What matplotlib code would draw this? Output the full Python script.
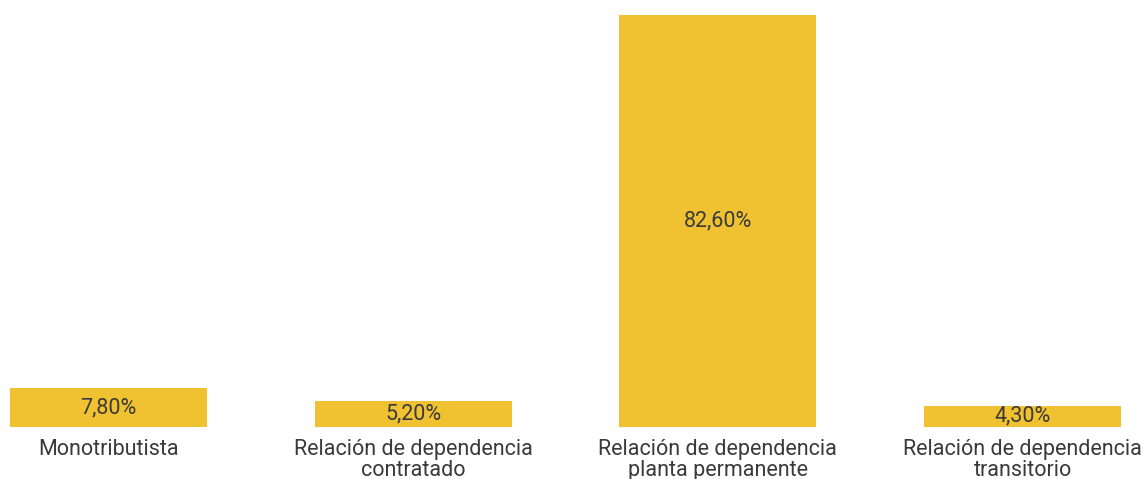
import matplotlib
matplotlib.use("Agg")
import matplotlib.pyplot as plt

plt.rcParams['font.family'] = ['Roboto', 'DejaVu Sans']

categorias = ["Monotributista",
              "Relación de dependencia\ncontratado",
              "Relación de dependencia\nplanta permanente",
              "Relación de dependencia\ntransitorio"]
valores = [7.8, 5.2, 82.6, 4.3]
etiquetas = ["7,80%", "5,20%", "82,60%", "4,30%"]

color_barra = "#F0C232"
color_texto = "#3a3a3a"

fig = plt.figure(figsize=(11.46, 4.79), dpi=100)
ax = fig.add_axes([0, 0.1086, 1, 0.8914])

x = list(range(len(categorias)))
barras = ax.bar(x, valores, width=0.647, color=color_barra)

for b, t in zip(barras, etiquetas):
    ax.text(b.get_x() + b.get_width() / 2, b.get_height() / 2, t,
            ha="center", va="center", fontsize=15.5, color=color_texto)

ax.set_xlim(-0.356, 3.405)
ax.set_ylim(0, 85.6)
ax.set_xticks(x)
ax.set_xticklabels(categorias, fontsize=15.5, color=color_texto, linespacing=0.95)
ax.tick_params(axis="x", length=0, pad=9)
ax.set_yticks([])
for s in ax.spines.values():
    s.set_visible(False)

fig.savefig("out.png", dpi=100)
